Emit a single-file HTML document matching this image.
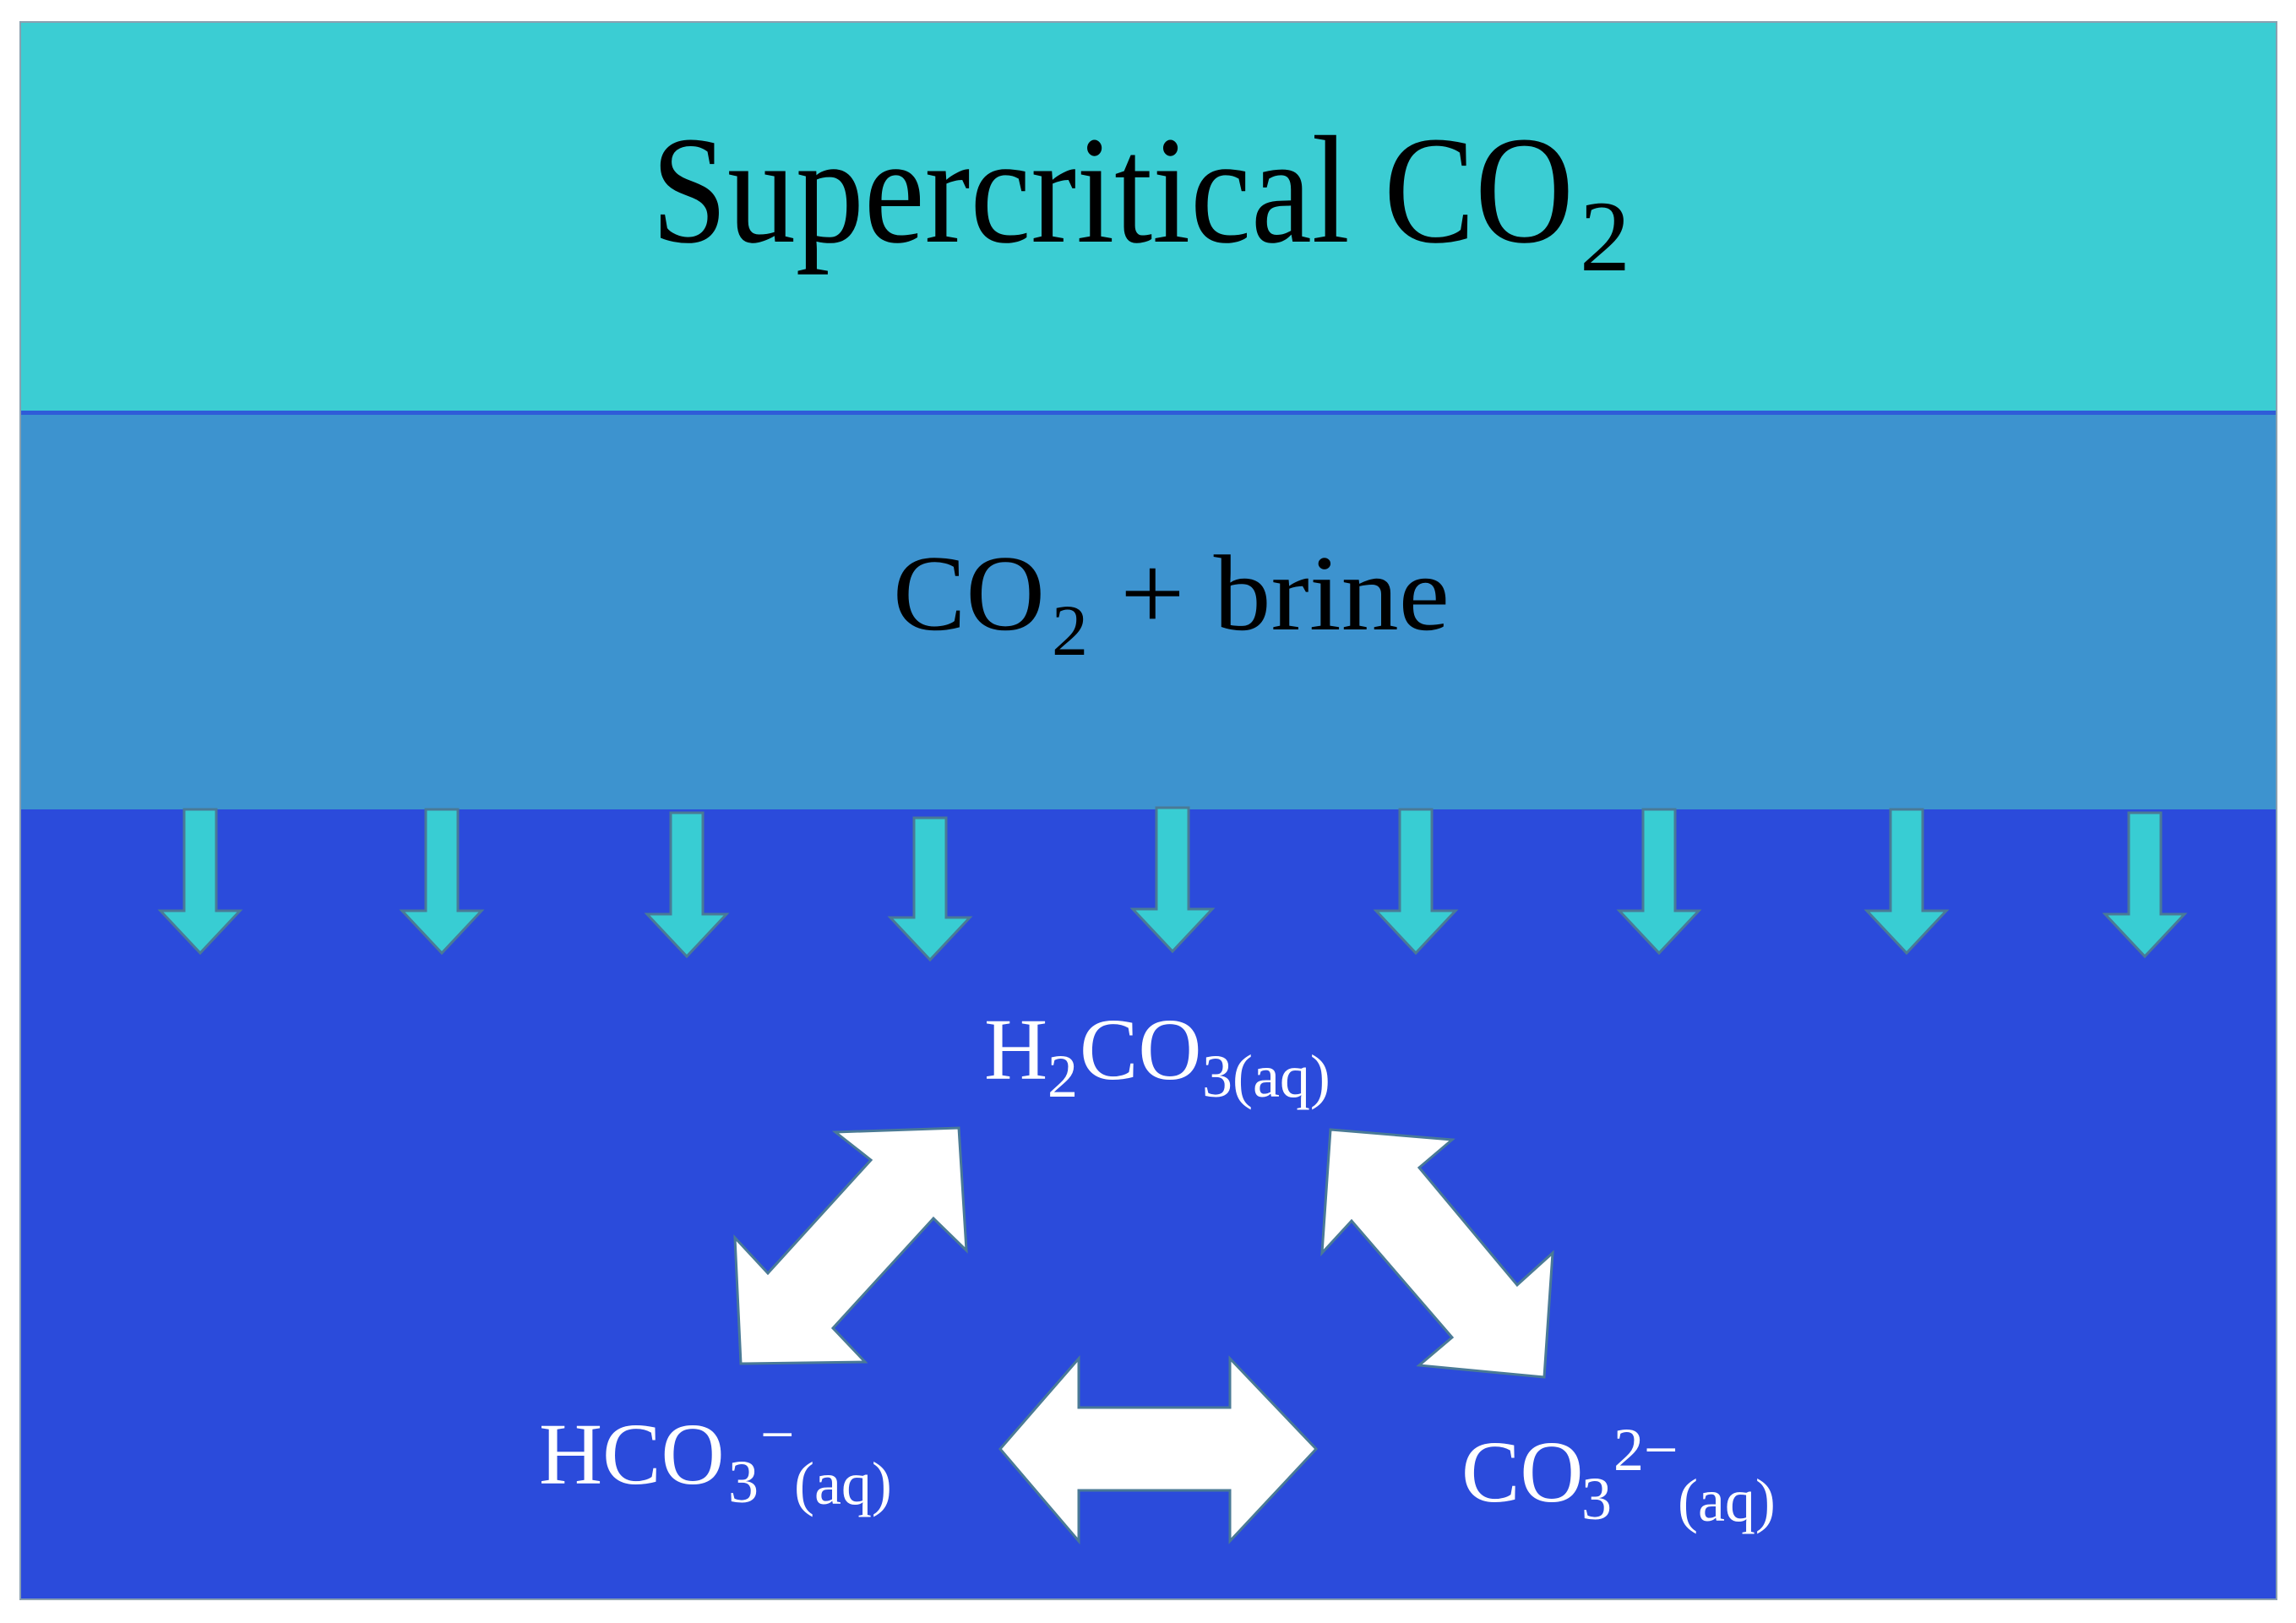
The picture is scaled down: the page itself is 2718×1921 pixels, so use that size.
<!DOCTYPE html>
<html><head><meta charset="utf-8"><style>html,body{margin:0;padding:0;background:#fff}svg{display:block}</style></head>
<body>
<svg width="2718" height="1921" viewBox="0 0 2718 1921" xmlns="http://www.w3.org/2000/svg" font-family="'Liberation Serif', serif">
<rect x="0" y="0" width="2718" height="1921" fill="#fff"/>
<rect x="24" y="26" width="2671" height="463" fill="#3bcdd3"/>
<rect x="24" y="489" width="2671" height="469" fill="#3d93cf"/>
<rect x="24" y="486" width="2671" height="5" fill="#2f5cd8"/>
<rect x="24" y="958" width="2671" height="935" fill="#2b4bdb"/>
<rect x="24" y="26" width="2671" height="1867" fill="none" stroke="#8aa0b0" stroke-width="2"/>

<text x="771" y="286" font-size="182" fill="#000" textLength="1092" lengthAdjust="spacingAndGlyphs">Supercritical CO</text>
<text x="1870" y="320" font-size="120" fill="#000">2</text>

<text x="1057" y="745" font-size="128" fill="#000" textLength="180" lengthAdjust="spacingAndGlyphs">CO</text>
<text x="1245" y="775" font-size="86" fill="#000">2</text>
<text x="1326" y="745" font-size="128" fill="#000" textLength="390" lengthAdjust="spacingAndGlyphs">+ brine</text>

<g fill="#38cdd3" stroke="#4a7a96" stroke-width="3">
<polygon points="218,958 256,958 256,1078 284,1078 237,1128 190,1078 218,1078"/>
<polygon points="504,958 542,958 542,1078 570,1078 523,1128 476,1078 504,1078"/>
<polygon points="794,962 832,962 832,1082 860,1082 813,1132 766,1082 794,1082"/>
<polygon points="1082,968 1120,968 1120,1086 1148,1086 1101,1136 1054,1086 1082,1086"/>
<polygon points="1369,956 1407,956 1407,1076 1435,1076 1388,1126 1341,1076 1369,1076"/>
<polygon points="1657,958 1695,958 1695,1078 1723,1078 1676,1128 1629,1078 1657,1078"/>
<polygon points="1945,958 1983,958 1983,1078 2011,1078 1964,1128 1917,1078 1945,1078"/>
<polygon points="2238,958 2276,958 2276,1078 2304,1078 2257,1128 2210,1078 2238,1078"/>
<polygon points="2520,962 2558,962 2558,1082 2586,1082 2539,1132 2492,1082 2520,1082"/>
</g>

<g fill="#fff" stroke="#4a7a96" stroke-width="3">
<polygon points="1135,1335 1144,1480 1105,1442 986,1572 1024,1612 877,1614 870,1465 909,1507 1031,1373 989,1340"/>
<polygon points="1575,1337 1719,1349 1680,1382 1796,1521 1838,1483 1828,1630 1680,1616 1719,1583 1600,1445 1565,1483"/>
<polygon points="1184,1715 1277,1608 1277,1666 1456,1666 1456,1608 1558,1715 1456,1824 1456,1764 1277,1764 1277,1824"/>
</g>

<g fill="#fff">
<text x="1165" y="1277" font-size="104">H</text>
<text x="1240" y="1298" font-size="72">2</text>
<text x="1278" y="1277" font-size="104">CO</text>
<text x="1423" y="1298" font-size="72">3(aq)</text>

<text x="638" y="1756" font-size="104">HCO</text>
<text x="862" y="1778" font-size="72">3</text>
<text x="900" y="1722" font-size="72">−</text>
<text x="940" y="1780" font-size="72">(aq)</text>

<text x="1730" y="1777" font-size="104">CO</text>
<text x="1872" y="1798" font-size="72">3</text>
<text x="1910" y="1740" font-size="72">2−</text>
<text x="1986" y="1800" font-size="72">(aq)</text>
</g>
</svg>
</body></html>
